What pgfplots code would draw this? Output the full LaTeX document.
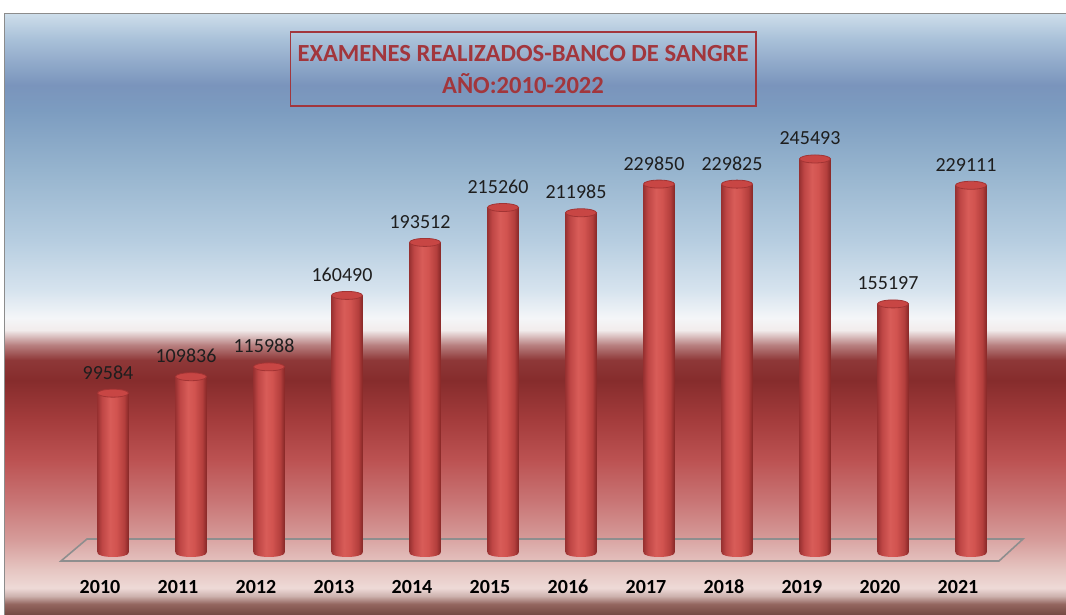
\documentclass[border=0pt]{standalone}
\usepackage{pgfplots}
\pgfplotsset{compat=1.18}
\usepackage{pgfplotstable}
\usepackage{fontspec}
\setmainfont{Carlito}

\definecolor{g01}{HTML}{744842}
\definecolor{g02}{HTML}{94665F}
\definecolor{g03}{HTML}{CDB2AE}
\definecolor{g04}{HTML}{EEDAD7}
\definecolor{g05}{HTML}{E6C6C2}
\definecolor{g06}{HTML}{D69C9A}
\definecolor{g07}{HTML}{C87474}
\definecolor{g08}{HTML}{BC5252}
\definecolor{g09}{HTML}{A43C3C}
\definecolor{g10}{HTML}{862C2C}
\definecolor{g11}{HTML}{8E3838}
\definecolor{g12}{HTML}{B88080}
\definecolor{g13}{HTML}{F2ECEC}
\definecolor{g14}{HTML}{F4F6F8}
\definecolor{g15}{HTML}{D6E3EE}
\definecolor{g16}{HTML}{B6CDE0}
\definecolor{g17}{HTML}{96B4CE}
\definecolor{g18}{HTML}{7C9CC0}
\definecolor{g19}{HTML}{7A94BC}
\definecolor{g20}{HTML}{A8C0D8}
\definecolor{g21}{HTML}{CDDDEA}

\definecolor{c0}{HTML}{9A3232}
\definecolor{c1}{HTML}{BE4645}
\definecolor{c2}{HTML}{D85C58}
\definecolor{c3}{HTML}{D25450}
\definecolor{c4}{HTML}{B43F3D}
\definecolor{c5}{HTML}{882828}
\definecolor{topc}{HTML}{C84644}
\definecolor{tope}{HTML}{A23434}
\definecolor{framec}{HTML}{8C8C8C}
\definecolor{floorc}{HTML}{8E8E8E}
\definecolor{titlec}{HTML}{A2363C}
\definecolor{labc}{HTML}{1E1E1E}

\pgfdeclareverticalshading{bgshade}{100bp}{%
color(0bp)=(g01); color(25bp)=(g01); color(25.92bp)=(g02); color(26.58bp)=(g03);
color(27.25bp)=(g04); color(28.74bp)=(g05); color(31.24bp)=(g06); color(34.57bp)=(g07);
color(37.9bp)=(g08); color(41.22bp)=(g09); color(44.55bp)=(g10); color(46.21bp)=(g11);
color(47.46bp)=(g12); color(48.71bp)=(g13); color(49.71bp)=(g14); color(52.04bp)=(g15);
color(56.2bp)=(g16); color(62.02bp)=(g17); color(67.01bp)=(g18); color(69.09bp)=(g19);
color(72.84bp)=(g20); color(75bp)=(g21); color(100bp)=(g21)}

\pgfdeclarehorizontalshading{cyl}{100bp}{%
color(0bp)=(c0); color(25bp)=(c0); color(32bp)=(c1); color(45bp)=(c2);
color(55bp)=(c3); color(68bp)=(c4); color(75bp)=(c5); color(100bp)=(c5)}

\pgfdeclareplotmark{topcap}{%
\pgfpathellipse{\pgfpointorigin}{\pgfqpoint{15.5pt}{0pt}}{\pgfqpoint{0pt}{4pt}}%
\pgfusepathqfillstroke}
\pgfdeclareplotmark{botcap}{%
\pgfpathellipse{\pgfpointorigin}{\pgfqpoint{15.5pt}{0pt}}{\pgfqpoint{0pt}{4pt}}%
\pgfshadepath{cyl}{0}\pgfusepath{discard}}

\pgfplotstableread{
i v lab z
0 99584 99584 0
1 109836 109836 0
2 115988 115988 0
3 160490 160490 0
4 193512 193512 0
5 215260 215260 0
6 211985 211985 0
7 229850 229850 0
8 229825 229825 0
9 245493 245493 0
10 155197 155197 0
11 229111 229111 0
}\data

\newcommand\cylbar[2]{%
\addplot[ybar, bar width=31pt, bar shift=0pt, draw=none, shading=cyl, shade,
  restrict x to domain=#1:#2] table[x=i, y=v] {\data};}

\begin{document}
\begin{tikzpicture}[x=1pt,y=1pt]
\useasboundingbox (0,0) rectangle (1066,615);
\fill[white] (0,0) rectangle (1066,615);
\shade[shading=bgshade] (5,0) rectangle (1066,601);
\draw[framec, line width=1.5] (4.5,0) -- (4.5,601.5) -- (1066,601.5);
% floor
\fill[white, opacity=0.10] (61,54) -- (999,54) -- (1023,76) -- (87,76) -- cycle;
\draw[floorc, line width=1.6, line join=miter] (61,54) -- (999,54) -- (1023,76) -- (87,76) -- cycle;
% title
\draw[titlec, line width=1.5] (290.5,583) rectangle (756,509);
\node[anchor=base, text=titlec, inner sep=0pt, font=\bfseries\fontsize{24.6}{30}\selectfont] at (523,553) {EXAMENES REALIZADOS-BANCO DE SANGRE};
\node[anchor=base, text=titlec, inner sep=0pt, font=\bfseries\fontsize{24.6}{30}\selectfont] at (523,521) {AÑO:2010-2022};

\begin{axis}[
  at={(35pt,62pt)}, anchor=south west,
  scale only axis, width=1014pt, height=481.5pt,
  xmin=-1, xmax=12, ymin=0, ymax=300000,
  clip=false,
  axis x line*=bottom, axis y line=none,
  x axis line style={draw=none},
  major tick length=0pt,
  scaled y ticks=false,
  xtick={0,1,2,3,4,5,6,7,8,9,10,11},
  xticklabels={2010,2011,2012,2013,2014,2015,2016,2017,2018,2019,2020,2021},
  xticklabel style={font=\bfseries\fontsize{20}{24}\selectfont, text=black, anchor=base, yshift=-41pt, xshift=-13pt},
]
\addplot[only marks, mark=botcap] table[x=i, y=z] {\data};
\cylbar{-0.5}{0.5}
\cylbar{0.5}{1.5}
\cylbar{1.5}{2.5}
\cylbar{2.5}{3.5}
\cylbar{3.5}{4.5}
\cylbar{4.5}{5.5}
\cylbar{5.5}{6.5}
\cylbar{6.5}{7.5}
\cylbar{7.5}{8.5}
\cylbar{8.5}{9.5}
\cylbar{9.5}{10.5}
\cylbar{10.5}{11.5}
\addplot[only marks, mark=topcap, mark options={fill=topc, draw=tope, line width=0.8pt},
  nodes near coords, point meta=explicit symbolic,
  every node near coord/.append style={text=labc, font=\fontsize{20}{24}\selectfont, anchor=base, xshift=-5pt, yshift=14pt}]
  table[x=i, y=v, meta=lab] {\data};
\end{axis}
\end{tikzpicture}
\end{document}
